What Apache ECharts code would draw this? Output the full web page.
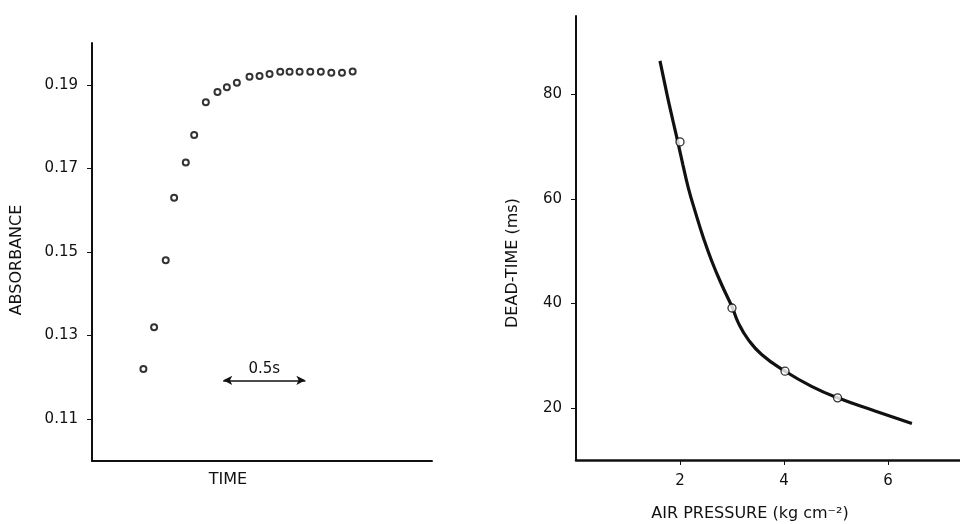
<!DOCTYPE html>
<html>
<head>
<meta charset="utf-8">
<script src="https://cdn.jsdelivr.net/npm/echarts@6/dist/echarts.min.js"></script>
<style>
html,body{margin:0;padding:0;background:#fff;}
#c{width:960px;height:524px;}
</style>
</head>
<body>
<div id="c"></div>
<script>
// Left panel: absorbance vs time (s)
var timeValues = [0.313, 0.378, 0.449, 0.500, 0.571, 0.622, 0.693, 0.764, 0.821, 0.882, 0.959, 1.020, 1.081, 1.146, 1.203, 1.264, 1.329, 1.393, 1.457, 1.522, 1.587];
var absorbanceValues = [0.1220, 0.1320, 0.1480, 0.1630, 0.1714, 0.1780, 0.1858, 0.1883, 0.1894, 0.1905, 0.1919, 0.1921, 0.1926, 0.1931, 0.1931, 0.1931, 0.1931, 0.1931, 0.1929, 0.1929, 0.1932];
var absorbanceTicks = [0.11, 0.13, 0.15, 0.17, 0.19];
var scaleBarTimes = [0.799, 1.299];
var scaleBarLevel = 0.1193;
var scaleBarLabel = '0.5s';

// Right panel: dead-time vs air pressure
var pressurePoints = [2.0, 3.0, 4.02, 5.03];
var deadTimePoints = [70.9, 39.1, 27.0, 21.9];
var curvePressure = [1.615, 1.75, 1.865, 1.958, 2.054, 2.16, 2.288, 2.448, 2.61, 2.80, 3.006, 3.12, 3.31, 3.57, 4.02, 4.53, 5.03, 5.75, 6.46];
var curveDeadTime = [86.4, 80.0, 74.9, 70.9, 66.6, 62.1, 57.7, 52.6, 48.1, 43.6, 39.2, 36.3, 33.1, 30.2, 27.0, 24.1, 21.9, 19.4, 17.0];
var deadTimeTicks = [20, 40, 60, 80];
var pressureTicks = [2, 4, 6];

var FONT = 'DejaVu Sans';
var INK = '#111';

function zip(a, b) { return a.map(function (v, i) { return [v, b[i]]; }); }

var chart = echarts.init(document.getElementById('c'), null, {renderer: 'canvas'});
chart.setOption({
  backgroundColor: '#fff',
  animation: false,
  grid: [
    {left: 92, top: 43, width: 340, height: 418},
    {left: 576, top: 16, width: 384, height: 444}
  ],
  xAxis: [
    {
      type: 'value', gridIndex: 0, min: 0, max: 2.07,
      axisLine: {show: true, lineStyle: {color: INK, width: 2}},
      axisTick: {show: false}, axisLabel: {show: false}, splitLine: {show: false}
    },
    {
      type: 'value', gridIndex: 1, min: 0, max: 7.385,
      axisLine: {show: true, lineStyle: {color: INK, width: 2.5}},
      axisTick: {show: true, length: 5, lineStyle: {color: INK, width: 1}, customValues: pressureTicks},
      axisLabel: {show: true, margin: 14, color: INK, fontFamily: FONT, fontSize: 15, customValues: pressureTicks},
      splitLine: {show: false}
    }
  ],
  yAxis: [
    {
      type: 'value', gridIndex: 0, min: 0.1, max: 0.2,
      axisLine: {show: true, lineStyle: {color: INK, width: 2}},
      axisTick: {show: true, length: 5, lineStyle: {color: INK, width: 1}, customValues: absorbanceTicks},
      axisLabel: {show: true, margin: 14, color: INK, fontFamily: FONT, fontSize: 15, customValues: absorbanceTicks,
        formatter: function (v) { return v.toFixed(2); }},
      splitLine: {show: false}
    },
    {
      type: 'value', gridIndex: 1, min: 10, max: 95,
      axisLine: {show: true, lineStyle: {color: INK, width: 2}},
      axisTick: {show: true, length: 5, lineStyle: {color: INK, width: 1}, customValues: deadTimeTicks},
      axisLabel: {show: true, margin: 14, color: INK, fontFamily: FONT, fontSize: 15, customValues: deadTimeTicks},
      splitLine: {show: false}
    }
  ],
  series: [
    {
      type: 'scatter', xAxisIndex: 0, yAxisIndex: 0,
      data: zip(timeValues, absorbanceValues),
      symbol: 'emptyCircle', symbolSize: 6,
      itemStyle: {color: '#000', borderColor: '#000', borderWidth: 1.2},
      markLine: {
        silent: true,
        symbol: ['arrow', 'arrow'],
        symbolSize: [7, 9],
        lineStyle: {color: INK, width: 1.5, type: 'solid'},
        label: {show: true, position: 'insideMiddleTop', distance: 4, formatter: scaleBarLabel,
          color: INK, fontFamily: FONT, fontSize: 15},
        data: [[{coord: [scaleBarTimes[0], scaleBarLevel]}, {coord: [scaleBarTimes[1], scaleBarLevel]}]]
      }
    },
    {
      type: 'line', xAxisIndex: 1, yAxisIndex: 1,
      data: zip(curvePressure, curveDeadTime),
      smooth: 0.5, showSymbol: false, symbol: 'none',
      lineStyle: {color: INK, width: 3.2}, z: 2
    },
    {
      type: 'scatter', xAxisIndex: 1, yAxisIndex: 1,
      data: zip(pressurePoints, deadTimePoints),
      symbol: 'circle', symbolSize: 8,
      itemStyle: {color: '#fff', borderColor: '#000', borderWidth: 1.3}, z: 5
    }
  ],
  graphic: [
    {type: 'text', x: 17, y: 260, rotation: Math.PI / 2,
      style: {text: 'ABSORBANCE', fill: INK, font: '16px "DejaVu Sans"', align: 'center', verticalAlign: 'middle'}},
    {type: 'text', x: 228, y: 480,
      style: {text: 'TIME', fill: INK, font: '16px "DejaVu Sans"', align: 'center', verticalAlign: 'middle'}},
    {type: 'text', x: 513, y: 263, rotation: Math.PI / 2,
      style: {text: 'DEAD-TIME (ms)', fill: INK, font: '16px "DejaVu Sans"', align: 'center', verticalAlign: 'middle'}},
    {type: 'text', x: 750, y: 514,
      style: {text: 'AIR PRESSURE (kg cm\u207B\u00B2)', fill: INK, font: '16px "DejaVu Sans"', align: 'center', verticalAlign: 'middle'}}
  ]
});
</script>
</body>
</html>
